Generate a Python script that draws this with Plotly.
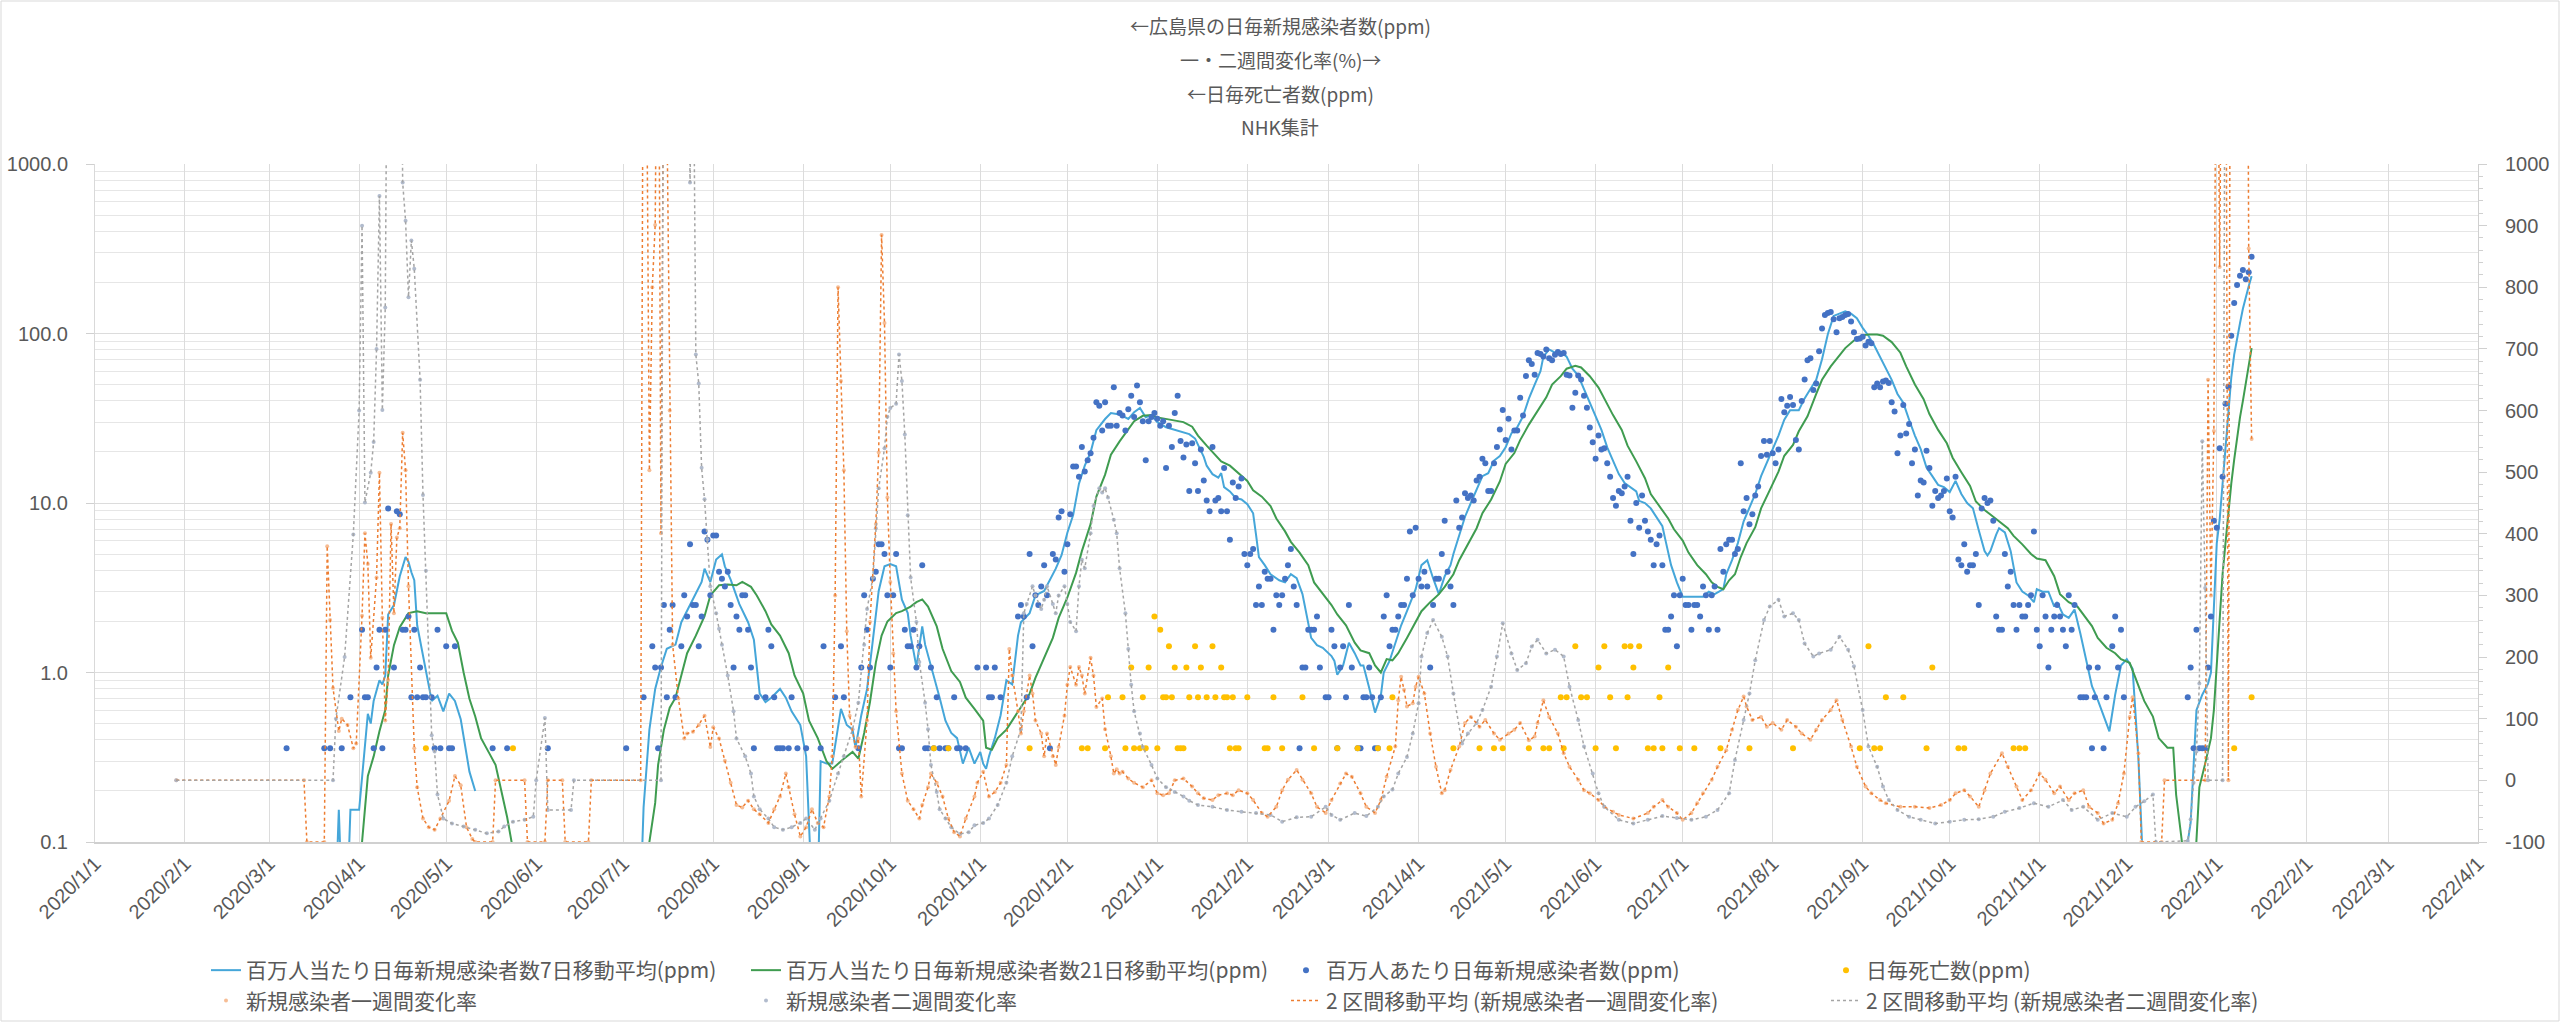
import pandas as pd
import plotly.graph_objects as go

BASE = pd.Timestamp("2020-01-01")
POP_MILLION = 2.8  # Hiroshima population (millions) -> ppm conversion

# ---------------- daily new cases (count), one value per day from 2020-03-07 ----------------
cases_start = "2020-03-07"
daily_cases = [
    1, 0, 0, 0, 0, 0, 0, 0, 0, 0,
    0, 0, 0, 1, 0, 1, 0, 0, 0, 1,
    0, 0, 2, 0, 0, 0, 5, 2, 2, 0,
    1, 3, 5, 1, 5, 26, 0, 3, 25, 24,
    5, 5, 6, 2, 5, 2, 3, 2, 2, 0,
    2, 1, 5, 1, 0, 4, 1, 1, 4, 0,
    0, 0, 0, 0, 0, 0, 0, 0, 0, 0,
    0, 1, 0, 0, 0, 0, 1, 0, 0, 0,
    0, 0, 0, 0, 0, 0, 0, 0, 0, 0,
    1, 0, 0, 0, 0, 0, 0, 0, 0, 0,
    0, 0, 0, 0, 0, 0, 0, 0, 0, 0,
    0, 0, 0, 0, 0, 0, 0, 1, 0, 0,
    0, 0, 0, 2, 0, 0, 4, 3, 1, 3,
    7, 2, 5, 7, 2, 0, 4, 8, 6, 16,
    7, 7, 4, 6, 19, 17, 8, 18, 18, 11,
    10, 9, 11, 7, 3, 6, 5, 8, 8, 5,
    3, 1, 2, 0, 0, 2, 5, 4, 2, 1,
    1, 1, 0, 1, 2, 0, 1, 0, 0, 1,
    0, 0, 0, 0, 1, 4, 0, 0, 0, 2,
    0, 4, 2, 0, 0, 0, 0, 1, 3, 8,
    5, 3, 10, 11, 16, 16, 14, 8, 3, 8,
    14, 1, 1, 5, 4, 4, 5, 3, 4, 12,
    1, 1, 3, 1, 2, 1, 0, 1, 1, 0,
    2, 1, 1, 0, 1, 0, 0, 0, 3, 0,
    0, 3, 2, 2, 3, 0, 2, 0, 0, 0,
    0, 0, 6, 7, 6, 2, 14, 4, 8, 7,
    9, 12, 8, 1, 14, 13, 23, 25, 11, 16,
    24, 46, 46, 40, 60, 43, 50, 55, 68, 110,
    105, 75, 110, 80, 80, 135, 80, 95, 92, 75,
    100, 120, 90, 138, 110, 85, 50, 85, 90, 95,
    88, 80, 85, 45, 80, 60, 95, 120, 65, 52,
    62, 33, 63, 48, 33, 58, 38, 29, 25, 60,
    29, 30, 25, 45, 25, 17, 37, 30, 35, 39,
    14, 12, 14, 15, 7, 9, 7, 11, 10, 10,
    5, 8, 7, 8, 10, 12, 15, 9, 7, 1,
    3, 3, 5, 5, 5, 6, 3, 0, 2, 2,
    5, 4, 1, 3, 4, 2, 7, 3, 0, 1,
    1, 2, 2, 3, 2, 1, 1, 2, 6, 8,
    4, 5, 5, 6, 7, 7, 10, 19, 8, 20,
    10, 9, 11, 9, 3, 7, 10, 10, 14, 22,
    11, 9, 7, 29, 20, 23, 32, 30, 31, 29,
    38, 40, 51, 48, 33, 33, 48, 60, 76, 99,
    66, 88, 58, 75, 75, 117, 92, 157, 195, 185,
    160, 215, 212, 205, 225, 200, 195, 210, 218, 212,
    215, 160, 158, 102, 125, 158, 150, 120, 102, 78,
    64, 51, 70, 58, 59, 48, 40, 30, 27, 33,
    32, 35, 40, 22, 14, 28, 20, 31, 22, 19,
    17, 12, 16, 18, 12, 5, 5, 6, 8, 4,
    8, 10, 7, 7, 5, 7, 7, 6, 9, 8,
    5, 8, 9, 5, 15, 11, 16, 17, 17, 14,
    15, 48, 25, 30, 21, 24, 31, 35, 53, 65,
    54, 65, 55, 48, 58, 115, 96, 105, 118, 106,
    66, 58, 112, 150, 195, 200, 130, 142, 220, 300,
    360, 370, 375, 340, 285, 345, 350, 360, 365, 330,
    285, 260, 262, 268, 238, 250, 245, 135, 142, 135,
    146, 148, 143, 110, 97, 55, 70, 106, 72, 82,
    48, 58, 31, 38, 37, 57, 45, 27, 33, 30,
    31, 33, 39, 25, 23, 40, 13, 12, 16, 11,
    12, 12, 14, 7, 26, 30, 28, 29, 22, 6,
    5, 5, 14, 9, 11, 7, 5, 7, 6, 6,
    7, 8, 19, 5, 4, 8, 6, 3, 5, 6,
    7, 6, 5, 4, 8, 5, 7, 0, 2, 2,
    2, 3, 1, 2, 3, 0, 1, 2, 0, 4,
    6, 3, 5, 2, 0, 0, 0, 0, 0, 0,
    0, 0, 0, 0, 0, 0, 0, 0, 0, 0,
    0, 0, 0, 0, 0, 2, 3, 1, 5, 1,
    1, 1, 3, 6, 22, 20, 59, 40, 108, 136,
    272, 424, 542, 613, 664, 586, 644, 794,
]

# ---------------- daily deaths (day offset from 2020-01-01, count) ----------------
death_day = [114, 144, 289, 294, 322, 340, 342, 348, 349, 354, 355, 357, 358, 360, 361, 362, 363,
             365, 366, 367, 368, 369, 370, 371, 372, 373, 374, 375, 376, 377, 379, 380, 381, 383,
             385, 386, 388, 389, 390, 391, 392, 393, 394, 397, 403, 404, 406, 409, 416, 420, 428,
             435, 442, 446, 447, 468, 477, 482, 485, 494, 499, 501, 505, 506, 507, 510, 512, 514,
             517, 518, 520, 522, 524, 527, 528, 529, 530, 532, 535, 537, 539, 540, 542, 546, 551,
             560, 570, 585, 608, 611, 613, 615, 617, 623, 631, 633, 642, 644, 661, 663, 665, 737, 743]
death_count = [1, 1, 1, 1, 1, 1, 1, 1, 2, 2, 1, 3, 1, 1, 2, 1, 3,
               6, 1, 5, 2, 2, 4, 2, 3, 1, 1, 1, 3, 2, 4, 2, 3, 2,
               4, 2, 3, 2, 2, 1, 2, 1, 1, 2, 1, 1, 2, 1, 2, 1, 1,
               1, 1, 1, 2, 1, 1, 1, 1, 1, 1, 1, 2, 1, 2, 4, 2, 2,
               1, 3, 4, 2, 1, 4, 2, 4, 3, 4, 1, 1, 2, 1, 3, 1, 1,
               1, 1, 1, 1, 4, 1, 1, 2, 2, 1, 3, 1, 1, 1, 1, 1, 1, 2]

# ---------------- 7-day / 21-day moving averages (day offset, ppm) ----------------
ma7_points = [
    (66, 0.05), (83, 0.05), (84, 0.155), (85, 0.05), (87, 0.05), (88, 0.155), (91, 0.155), (92, 0.245),
    (93, 0.36), (94, 0.57), (95, 0.5), (96, 0.68), (98, 0.9), (99, 0.85), (100, 0.96), (101, 2.2),
    (103, 2.5), (105, 3.7), (107, 4.8), (108, 4.5), (109, 3.9), (110, 3.5), (111, 1.9), (113, 1.26),
    (115, 0.8), (116, 0.68), (118, 0.73), (120, 0.59), (122, 0.75), (124, 0.68), (126, 0.53),
    (128, 0.32), (129, 0.26), (131, 0.2), (132, None),
    (183, 0.05), (188, 0.05), (189, 0.16), (191, 0.46), (193, 0.8), (195, 1.08), (197, 1.38),
    (200, 1.46), (202, 1.98), (206, 2.69), (209, 3.42), (210, 4.1), (212, 3.42), (214, 4.64),
    (216, 4.98), (217, 4.23), (219, 3.53), (222, 2.53), (225, 1.98), (227, 1.56), (229, 0.75),
    (231, 0.67), (233, 0.71), (236, 0.8), (238, 0.71), (240, 0.59), (243, 0.49), (245, 0.32),
    (247, 0.05), (249, 0.05), (250, 0.3), (252, 0.29), (254, 0.29), (257, 0.61), (259, 0.49),
    (261, 0.46), (262, 0.36), (264, 0.56), (266, 0.8), (268, 1.56), (270, 3.03), (272, 4.23),
    (274, 4.36), (276, 4.23), (278, 2.69), (280, 2.24), (281, 1.65), (283, 1.08), (285, 1.87),
    (286, 1.46), (289, 0.96), (291, 0.71), (293, 0.52), (295, 0.44), (297, 0.41), (299, 0.29),
    (301, 0.36), (303, 0.29), (305, 0.34), (306, 0.29), (307, 0.27), (308, 0.32), (310, 0.41),
    (312, 0.56), (314, 0.9), (316, 0.85), (318, 1.65), (319, 1.98), (322, 2.24), (324, 2.85),
    (327, 3.03), (329, 3.53), (331, 4.1), (333, 4.92), (335, 6.67), (337, 8.5), (339, 13.0),
    (341, 16.6), (343, 19.9), (345, 26.9), (348, 31.3), (350, 33.9), (353, 33.3), (356, 31.3),
    (358, 34.3), (360, 36.4), (362, 32), (364, 33), (366, 30), (369, 28), (372, 27), (375, 26),
    (377, 25.5), (379, 24), (380, 22), (382, 18.7), (383, 16.6), (385, 14.8), (387, 14.1),
    (388, 15), (389, 12.4), (391, 11.7), (393, 10.7), (395, 10.5), (397, 9.85), (399, 8.7),
    (400, 6.5), (401, 4.8), (403, 4.3), (405, 3.8), (408, 3.5), (410, 3.4), (412, 3.8), (414, 3.6),
    (416, 2.9), (418, 2.0), (419, 1.6), (421, 1.45), (423, 1.4), (426, 1.25), (427, 1.17),
    (428, 0.97), (430, 1.1), (432, 1.5), (434, 1.3), (436, 1.1), (437, 1.1), (439, 0.81),
    (441, 0.58), (443, 0.73), (444, 1.0), (446, 1.17), (448, 1.5), (450, 1.9), (452, 2.3),
    (455, 3.1), (457, 4.3), (459, 4.6), (461, 3.6), (463, 2.9), (465, 3.7), (467, 4.3), (468, 5.0),
    (470, 6.5), (472, 8.3), (474, 10.0), (476, 12.0), (478, 14.4), (480, 15), (482, 17.8),
    (484, 18.9), (486, 21.3), (488, 25.8), (490, 28), (492, 32.5), (494, 41.3), (496, 50),
    (498, 60), (499, 73), (501, 80.5), (503, 77), (505, 78), (507, 73), (509, 62), (511, 56.5),
    (513, 47), (515, 40), (517, 32.5), (519, 27), (521, 21.3), (523, 17.7), (525, 14.8),
    (527, 13.1), (529, 12.4), (531, 11.7), (532, 10.3), (534, 10), (536, 9.3), (538, 8.3),
    (540, 7.3), (541, 6.1), (543, 4.3), (545, 3.4), (547, 2.8), (551, 2.8), (554, 2.8), (556, 3.0),
    (558, 2.9), (561, 3.1), (562, 3.8), (564, 4.6), (566, 5.8), (568, 7.8), (570, 9.3), (572, 11.3),
    (574, 14.4), (576, 17.3), (578, 20.8), (580, 25), (582, 31), (584, 35.3), (587, 35.3),
    (589, 41.4), (591, 47), (593, 53.3), (595, 70.5), (597, 99), (599, 127), (601, 131), (603, 135),
    (605, 131), (607, 123), (609, 108), (611, 97), (613, 85), (615, 72.7), (617, 62), (619, 53.3),
    (621, 44), (623, 39), (625, 31), (627, 25), (629, 20.8), (631, 16.2), (633, 14.4), (635, 12.8),
    (637, 12.4), (639, 11.6), (641, 13.5), (643, 11.3), (645, 10), (647, 9.3), (649, 6.9),
    (651, 5.2), (652, 4.9), (653, 5.2), (655, 6.5), (656, 7.1), (658, 6.7), (660, 5.2), (662, 3.4),
    (664, 3.0), (666, 2.85), (668, 2.6), (669, 3.1), (671, 3.0), (673, 3.0), (675, 2.45),
    (676, 2.6), (678, 2.2), (680, 2.1), (682, 2.35), (684, 1.7), (686, 1.2), (688, 0.83),
    (690, 0.69), (692, 0.56), (694, 0.45), (696, 0.74), (698, 1.1), (700, 1.2), (702, 1.05),
    (704, 0.31), (705, 0.11), (706, 0.05), (707, None),
    (720, 0.05), (721, 0.1), (722, 0.13), (723, 0.28), (724, 0.6), (726, 0.74), (728, 0.86),
    (729, 1.0), (730, 2.2), (731, 5.8), (732, 8), (733, 13), (734, 22), (735, 35), (736, 55),
    (737, 75), (738, 95), (739, 115), (740, 140), (741, 165), (742, 190), (743, 218),
]

ma21_points = [
    (91, 0.05), (92, 0.1), (94, 0.245), (96, 0.32), (98, 0.45), (100, 0.6), (101, 0.96), (103, 1.45),
    (105, 1.85), (108, 2.24), (111, 2.3), (114, 2.24), (119, 2.24), (121, 2.24), (123, 1.76),
    (125, 1.5), (127, 1.0), (129, 0.7), (131, 0.55), (133, 0.41), (136, 0.33), (138, 0.285),
    (140, 0.2), (142, 0.14), (144, 0.09), (146, 0.06), (147, None),
    (188, 0.05), (191, 0.1), (193, 0.17), (194, 0.285), (196, 0.46), (198, 0.62), (200, 0.71),
    (202, 0.96), (204, 1.3), (207, 1.65), (210, 2.15), (212, 2.85), (215, 3.27), (218, 3.3),
    (221, 3.27), (223, 3.42), (226, 3.2), (228, 2.85), (231, 2.3), (233, 1.92), (236, 1.65),
    (239, 1.3), (241, 0.96), (244, 0.75), (246, 0.52), (249, 0.41), (252, 0.3), (254, 0.27),
    (256, 0.29), (258, 0.31), (261, 0.34), (263, 0.31), (265, 0.44), (267, 0.67), (269, 1.14),
    (271, 1.65), (273, 2.0), (276, 2.24), (278, 2.3), (281, 2.45), (283, 2.6), (285, 2.7),
    (287, 2.45), (290, 1.87), (292, 1.38), (295, 1.02), (298, 0.88), (300, 0.71), (303, 0.61),
    (306, 0.52), (307, 0.36), (309, 0.35), (311, 0.41), (314, 0.46), (316, 0.52), (319, 0.62),
    (322, 0.75), (324, 0.93), (327, 1.22), (330, 1.6), (332, 2.1), (335, 2.77), (338, 3.87),
    (340, 5.2), (343, 7.5), (345, 10.9), (348, 14.7), (350, 19.3), (353, 23.1), (356, 27.2),
    (358, 30.4), (361, 32.7), (364, 33), (366, 32), (370, 31), (375, 30), (378, 28.2), (380, 25),
    (383, 21.8), (386, 19.3), (388, 17.6), (391, 16.6), (394, 14.9), (397, 13.5), (399, 11.9),
    (402, 10.9), (405, 9.6), (407, 8.1), (410, 6.8), (412, 5.9), (415, 5.1), (418, 4.3), (420, 3.4),
    (423, 2.9), (426, 2.5), (428, 2.2), (431, 1.9), (434, 1.5), (436, 1.35), (439, 1.3), (441, 1.1),
    (443, 1.0), (445, 1.2), (447, 1.18), (449, 1.3), (452, 1.6), (455, 1.97), (457, 2.3), (460, 2.6),
    (463, 2.9), (465, 3.2), (468, 3.8), (470, 4.6), (473, 5.7), (476, 7.1), (478, 8.7), (481, 10.5),
    (484, 13.4), (486, 17), (489, 19.7), (491, 23.5), (494, 29), (497, 35), (500, 42), (502, 50),
    (505, 56), (507, 62), (510, 64.5), (512, 63), (515, 56), (518, 48), (520, 41), (523, 33),
    (526, 27), (528, 21.8), (531, 17.6), (534, 14), (536, 11.3), (539, 9.6), (542, 8.1), (544, 7),
    (547, 6), (549, 5.1), (552, 4.3), (555, 3.8), (557, 3.4), (559, 3.2), (561, 3.1), (563, 3.5),
    (565, 3.8), (567, 4.8), (569, 5.8), (572, 7.2), (574, 9.3), (577, 11.9), (580, 15.3), (582, 19),
    (585, 22), (587, 26.5), (590, 32.5), (593, 44), (595, 53.3), (598, 64), (601, 74), (603, 82),
    (606, 91), (609, 97.5), (611, 98.5), (614, 98.5), (616, 97), (619, 89), (622, 77), (624, 64),
    (627, 50), (630, 41), (632, 33.5), (635, 27), (638, 22.5), (640, 18.5), (643, 15.2), (646, 12.6),
    (648, 10.2), (651, 9.1), (654, 8.3), (656, 7.8), (659, 7.1), (661, 6.4), (664, 5.7), (667, 5.0),
    (669, 4.7), (672, 4.6), (675, 3.7), (677, 2.9), (680, 2.6), (683, 2.45), (685, 2.2), (688, 1.88),
    (690, 1.6), (693, 1.4), (696, 1.3), (698, 1.2), (701, 1.14), (704, 0.84), (706, 0.68),
    (709, 0.55), (711, 0.41), (714, 0.36), (716, 0.36), (717, 0.19), (719, 0.1), (720, 0.05),
    (721, None),
    (723, 0.05), (724, 0.1), (725, 0.21), (727, 0.29), (729, 0.41), (730, 0.6), (731, 1.1),
    (732, 2.2), (733, 3.8), (734, 5.8), (735, 9), (736, 13), (737, 18), (738, 25), (739, 32),
    (740, 40), (741, 50), (742, 63), (743, 82),
]

# ---------------- one-week / two-week change rates (day offset, %) ----------------
wk1_points = [
    (28, 0), (72, 0), (73, -100), (79, -100), (80, 380), (81, 260), (82, 150), (84, 80), (85, 100),
    (87, 90), (89, 52), (90, 60), (92, 267), (93, 401), (94, 351), (95, 199), (97, 329), (98, 499),
    (99, 264), (100, 97), (101, 163), (102, 416), (103, 271), (104, 394), (105, 409), (106, 564),
    (107, 503), (108, 315), (110, 52), (111, -11), (113, -62), (115, -76), (117, -80), (119, -62),
    (122, -33), (124, 7), (126, -8), (128, -76), (130, -95), (131, -100), (137, -100), (138, 0),
    (148, 0), (149, -100), (155, -100), (156, 0), (161, 0), (162, -100), (170, -100), (171, 0),
    (188, 0), (189, 1500), (190, 1200), (191, 503), (192, 800), (193, 901), (194, 1500), (195, 401),
    (196, 1300), (197, 1100), (198, 600), (199, 220), (201, 133), (203, 68), (204, 76), (206, 79),
    (208, 90), (210, 105), (212, 54), (213, 86), (215, 68), (217, 32), (219, -4), (221, -40),
    (223, -44), (225, -33), (227, -47), (229, -55), (232, -69), (234, -47), (236, -26), (238, 11),
    (239, -11), (241, -55), (243, -91), (245, -76), (247, -47), (249, -69), (251, -76), (253, -26),
    (254, 39), (255, 300), (256, 800), (257, 648), (258, 503), (259, 242), (260, 105), (262, 54),
    (263, 68), (264, -26), (266, 97), (267, 257), (269, 416), (270, 532), (271, 885), (272, 742),
    (273, 459), (274, 322), (275, 206), (276, 112), (278, 11), (280, -33), (282, -47), (284, -62),
    (285, -40), (287, -11), (288, 11), (290, -4), (292, -26), (294, -62), (296, -84), (298, -91),
    (300, -62), (303, -26), (304, -4), (306, 14), (308, -26), (310, -19), (312, -4), (314, 25),
    (315, 213), (316, 170), (318, 112), (319, 76), (320, 112), (322, 170), (323, 141), (324, 97),
    (326, 76), (327, 39), (328, 76), (330, 39), (331, 25), (332, 54), (334, 105), (335, 155),
    (336, 184), (338, 155), (339, 184), (340, 170), (341, 141), (343, 199), (344, 170), (345, 119),
    (347, 133), (348, 83), (350, 39), (351, 11), (352, 18), (353, 11), (354, 14), (356, 3),
    (358, -4), (361, -11), (364, 0), (366, -21), (368, -24), (370, -21), (372, 0), (375, 3),
    (378, -10), (380, -21), (382, -29), (385, -32), (387, -24), (390, -21), (392, -24), (394, -16),
    (397, -21), (399, -32), (402, -53), (404, -59), (407, -43), (409, -16), (411, 1), (414, 17),
    (416, 1), (419, -21), (421, -43), (424, -53), (426, -32), (429, -5), (431, 11), (433, 6),
    (436, -21), (438, -43), (441, -53), (443, -32), (445, 6), (448, 55), (449, 130), (450, 168),
    (451, 147), (452, 120), (454, 125), (455, 152), (456, 168), (458, 141), (460, 76), (462, 22),
    (464, -21), (465, -16), (467, 17), (470, 55), (472, 93), (474, 103), (477, 87), (479, 98),
    (482, 76), (484, 66), (487, 76), (489, 82), (491, 93), (494, 65), (496, 71), (497, 93),
    (499, 130), (501, 103), (504, 76), (506, 44), (508, 22), (511, 1), (513, -16), (515, -21),
    (518, -32), (520, -43), (523, -51), (525, -56), (530, -62), (535, -53), (537, -43), (540, -32),
    (542, -43), (545, -53), (547, -64), (550, -53), (552, -37), (554, -21), (557, 1), (559, 22),
    (562, 49), (564, 82), (566, 114), (568, 136), (569, 120), (571, 98), (574, 103), (576, 87),
    (578, 93), (581, 82), (583, 98), (586, 87), (588, 76), (591, 66), (593, 82), (595, 98),
    (598, 114), (600, 130), (602, 98), (605, 55), (607, 22), (610, -10), (612, -21), (615, -32),
    (617, -37), (622, -43), (627, -43), (632, -45), (636, -40), (639, -32), (641, -21), (644, -16),
    (646, -26), (649, -43), (651, -16), (653, 11), (657, 44), (659, 22), (662, -10), (664, -32),
    (667, -16), (670, 11), (672, 1), (675, -21), (677, -10), (680, -32), (682, -21), (685, -16),
    (687, -43), (690, -53), (692, -70), (695, -64), (697, -37), (699, 11), (701, 103), (702, 135),
    (704, 44), (705, -100), (712, -100), (713, 0), (727, 0), (728, 650), (729, 300), (730, 567),
    (731, 1500), (732, 833), (733, 1500), (734, 1500), (735, 0), (736, 2000), (741, 2000),
    (742, 863), (743, 554),
]

wk2_points = [
    (28, 0), (82, 0), (83, 100), (86, 200), (89, 399), (91, 600), (92, 900), (93, 451), (95, 499),
    (96, 549), (97, 700), (98, 948), (99, 601), (100, 767), (101, 1500), (105, 1500), (106, 970),
    (107, 908), (108, 784), (109, 876), (110, 830), (112, 650), (113, 463), (114, 340), (116, 73),
    (117, 47), (118, -23), (120, -62), (123, -70), (127, -75), (131, -80), (135, -86), (139, -83),
    (141, -75), (144, -67), (148, -64), (151, -59), (152, 0), (155, 101), (156, -48), (164, -48),
    (165, 0), (195, 0), (196, 1500), (204, 1500), (205, 970), (206, 1300), (207, 691), (208, 644),
    (209, 507), (210, 456), (211, 391), (212, 315), (214, 271), (215, 246), (216, 220), (218, 170),
    (220, 112), (221, 68), (224, 39), (226, 11), (227, -26), (229, -47), (232, -62), (234, -76),
    (237, -80), (240, -76), (243, -69), (245, -62), (248, -80), (250, -62), (253, -33), (256, 11),
    (258, 39), (261, 83), (263, 126), (265, 220), (266, 278), (268, 329), (269, 409), (270, 474),
    (272, 539), (273, 590), (274, 604), (276, 611), (277, 691), (278, 648), (279, 561), (280, 430),
    (281, 329), (283, 257), (284, 192), (286, 126), (287, 83), (288, 25), (290, -19), (291, -47),
    (293, -62), (295, -76), (298, -87), (301, -84), (303, -73), (306, -69), (308, -62), (311, -40),
    (314, -4), (316, 39), (319, 83), (320, 271), (321, 286), (323, 315), (324, 300), (326, 278),
    (327, 293), (328, 315), (330, 286), (331, 271), (332, 300), (334, 315), (335, 286), (336, 257),
    (338, 242), (339, 315), (340, 358), (341, 344), (343, 401), (344, 445), (346, 474), (347, 467),
    (348, 474), (349, 459), (351, 423), (352, 401), (353, 344), (355, 271), (356, 213), (357, 155),
    (358, 112), (360, 76), (361, 54), (364, 25), (366, 3), (369, -11), (372, -19), (375, -26),
    (377, -33), (380, -40), (385, -43), (390, -48), (395, -51), (400, -53), (405, -56), (409, -67),
    (414, -60), (419, -59), (424, -43), (426, -56), (429, -64), (434, -53), (438, -58), (442, -43),
    (444, -26), (447, -15), (449, 11), (452, 38), (454, 76), (456, 125), (457, 201), (459, 239),
    (461, 260), (464, 233), (466, 201), (468, 141), (471, 60), (473, 76), (476, 93), (478, 114),
    (481, 152), (483, 201), (485, 255), (488, 206), (490, 179), (493, 190), (495, 217), (497, 228),
    (500, 206), (503, 212), (506, 201), (508, 152), (511, 98), (513, 55), (516, 11), (518, -21),
    (520, -43), (525, -64), (530, -70), (535, -64), (540, -58), (545, -61), (550, -64), (555, -59),
    (559, -48), (563, -21), (565, 33), (568, 98), (570, 141), (572, 195), (575, 260), (577, 282),
    (580, 293), (582, 266), (585, 271), (587, 260), (589, 222), (592, 201), (594, 206), (598, 212),
    (601, 233), (604, 212), (606, 185), (609, 114), (611, 55), (614, 22), (616, -10), (618, -32),
    (621, -48), (625, -59), (629, -64), (634, -70), (639, -67), (644, -64), (649, -63), (654, -59),
    (658, -51), (663, -45), (668, -37), (673, -43), (678, -32), (681, -48), (685, -43), (690, -64),
    (695, -53), (700, -59), (703, -43), (706, -34), (709, -23), (710, -100), (721, -98), (722, -63),
    (723, -4), (724, 47), (725, 157), (726, 550), (727, 312), (728, 0), (733, 0), (734, 1500),
    (743, 2000),
]

# ---------------- text ----------------
title_lines = ["←広島県の日毎新規感染者数(ppm)", "一・二週間変化率(%)→", "←日毎死亡者数(ppm)", "NHK集計"]
names = [
    "百万人当たり日毎新規感染者数7日移動平均(ppm)",
    "百万人当たり日毎新規感染者数21日移動平均(ppm)",
    "百万人あたり日毎新規感染者数(ppm)",
    "日毎死亡数(ppm)",
    "新規感染者一週間変化率",
    "新規感染者二週間変化率",
    "2 区間移動平均 (新規感染者一週間変化率)",
    "2 区間移動平均 (新規感染者二週間変化率)",
]
y2_tickvals = [-100, 0, 100, 200, 300, 400, 500, 600, 700, 800, 900, 1000]
y2_ticktext = ["-100", "0", "100", "200", "300", "400", "500", "600", "700", "800", "900", "1000"]


def to_dates(days):
    return [BASE + pd.Timedelta(days=int(d)) for d in days]


def split(points):
    return to_dates([p[0] for p in points]), [p[1] for p in points]


case_dates = pd.date_range(cases_start, periods=len(daily_cases), freq="D")
case_ppm = [c / POP_MILLION if c > 0 else None for c in daily_cases]
death_dates = to_dates(death_day)
death_ppm = [c / POP_MILLION for c in death_count]

JP = "Noto Sans CJK JP"
NUM = "Liberation Sans"
GREY_TXT = "#595959"

fig = go.Figure()
x7, y7 = split(ma7_points)
x21, y21 = split(ma21_points)
xw1, yw1 = split(wk1_points)
xw2, yw2 = split(wk2_points)

fig.add_trace(go.Scatter(x=x7, y=y7, name=names[0], mode="lines",
                         line=dict(color="#45A6D9", width=2), connectgaps=False))
fig.add_trace(go.Scatter(x=x21, y=y21, name=names[1], mode="lines",
                         line=dict(color="#3F9C50", width=2), connectgaps=False))
fig.add_trace(go.Scatter(x=case_dates, y=case_ppm, name=names[2], mode="markers",
                         marker=dict(color="#4472C4", size=6)))
fig.add_trace(go.Scatter(x=death_dates, y=death_ppm, name=names[3], mode="markers",
                         marker=dict(color="#FFC000", size=6)))
fig.add_trace(go.Scatter(x=xw1, y=yw1, name=names[4], mode="markers", yaxis="y2",
                         marker=dict(color="#F4B183", size=4, opacity=0.85)))
fig.add_trace(go.Scatter(x=xw2, y=yw2, name=names[5], mode="markers", yaxis="y2",
                         marker=dict(color="#A9B4C8", size=4, opacity=0.9)))
fig.add_trace(go.Scatter(x=xw1, y=yw1, name=names[6], mode="lines", yaxis="y2",
                         line=dict(color="#ED7D31", width=1.5, dash="dot")))
fig.add_trace(go.Scatter(x=xw2, y=yw2, name=names[7], mode="lines", yaxis="y2",
                         line=dict(color="#A5A5A5", width=1.5, dash="dot")))

W, H = 2560, 1022
ML, MR, MT, MB = 95, 82, 164, 180
PW, PH = W - ML - MR, H - MT - MB

annotations = []
for txt, yf in zip(title_lines, [26, 59, 93, 126]):
    annotations.append(dict(text=txt, xref="paper", yref="paper", x=(1280 - ML) / PW,
                            y=1 + (MT - yf) / PH, xanchor="center", yanchor="middle",
                            showarrow=False, font=dict(family=JP, size=19, color=GREY_TXT)))

fig.update_layout(
    template="none",
    width=W, height=H,
    margin=dict(l=ML, r=MR, t=MT, b=MB, autoexpand=False),
    paper_bgcolor="white", plot_bgcolor="white",
    showlegend=True,
    legend=dict(orientation="h", x=(206 - ML) / PW, xanchor="left",
                y=(H - MB - 950) / PH, yanchor="top",
                entrywidth=495, entrywidthmode="pixels", itemwidth=30,
                font=dict(family=JP, size=21, color=GREY_TXT), bgcolor="rgba(0,0,0,0)"),
    xaxis=dict(type="date", range=["2020-01-01", "2022-04-01"], tick0="2020-01-01", dtick="M1",
               tickformat="%Y/%-m/%-d", tickangle=-45, showgrid=True, gridcolor="#DCDCDC",
               gridwidth=1, showline=True, linecolor="#D0D0D0", linewidth=2, ticks="",
               tickfont=dict(family=NUM, size=20, color=GREY_TXT), zeroline=False,
               automargin=False),
    yaxis=dict(type="log", range=[-1, 3], dtick=1, tickformat=".1f", showgrid=True,
               gridcolor="#DCDCDC", gridwidth=1, ticks="outside", ticklen=8, tickcolor="#D0D0D0",
               showline=True, linecolor="#D9D9D9", ticklabelstandoff=14,
               minor=dict(dtick="D1", showgrid=True, gridcolor="#E6E6E6", gridwidth=1),
               tickfont=dict(family=NUM, size=20, color=GREY_TXT), automargin=False),
    yaxis2=dict(overlaying="y", side="right", range=[-100, 1000], tickvals=y2_tickvals,
                ticktext=y2_ticktext, showgrid=False, zeroline=False, showline=True,
                linecolor="#D0D0D0", ticks="outside", ticklen=8, tickcolor="#D0D0D0",
                minor=dict(dtick=20, ticks="outside", ticklen=4, tickcolor="#D0D0D0"),
                ticklabelstandoff=14,
                tickfont=dict(family=NUM, size=20, color=GREY_TXT), automargin=False),
    annotations=annotations,
    shapes=[dict(type="rect", xref="paper", yref="paper",
                 x0=(1 - ML) / PW, x1=(W - 1 - ML) / PW,
                 y0=-(MB - 1) / PH, y1=1 + (MT - 1) / PH,
                 line=dict(color="#D9D9D9", width=1), layer="below")],
    hovermode=False,
)

fig.write_html("out.html")
